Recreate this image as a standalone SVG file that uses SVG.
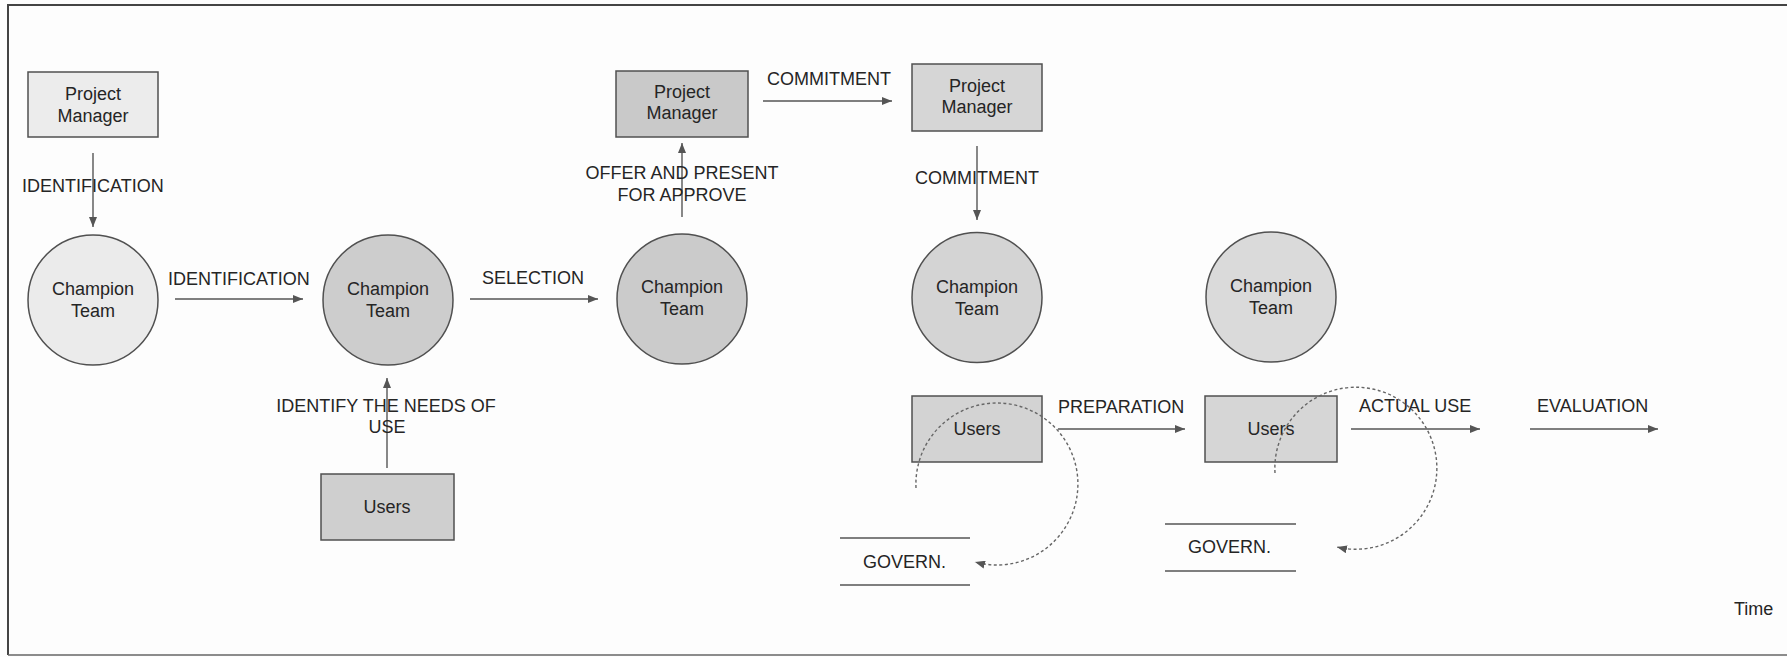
<svg xmlns="http://www.w3.org/2000/svg" width="1787" height="657" viewBox="0 0 1787 657">
  <style>
    text { font-family: "Liberation Sans", Arial, sans-serif; font-size: 18px; fill: #252525; }
    .mid { text-anchor: middle; }
    .shape { stroke: #505050; stroke-width: 1.5; }
    .flow { fill: none; stroke: #555; stroke-width: 1.4; marker-end: url(#arrow); }
    .loop { fill: none; stroke: #666; stroke-width: 1.4; stroke-dasharray: 3 2.5; marker-end: url(#arrow); }
    .store { stroke: #555; stroke-width: 1.4; }
  </style>
  <defs>
    <marker id="arrow" viewBox="0 0 10 8" refX="10" refY="4" markerWidth="10" markerHeight="8" markerUnits="userSpaceOnUse" orient="auto">
      <path d="M0,0 L10,4 L0,8 Z" fill="#555"/>
    </marker>
  </defs>

  <!-- page frame -->
  <rect x="0" y="0" width="1787" height="657" fill="#fdfdfd"/>
  <path d="M8,655 L8,5 L1787,5" fill="none" stroke="#444" stroke-width="2"/>
  <path d="M8,655 L1787,655" fill="none" stroke="#666" stroke-width="1.5"/>

  <!-- nodes -->
  <g id="pm1">
    <rect class="shape" x="28" y="72" width="130" height="65" fill="#ececec"/>
    <text class="mid" x="93" y="100">Project</text>
    <text class="mid" x="93" y="122">Manager</text>
  </g>
  <g id="team1">
    <circle class="shape" cx="93" cy="300" r="65" fill="#ebebeb"/>
    <text class="mid" x="93" y="295">Champion</text>
    <text class="mid" x="93" y="317">Team</text>
  </g>
  <g id="team2">
    <circle class="shape" cx="388" cy="300" r="65" fill="#cdcdcd"/>
    <text class="mid" x="388" y="295">Champion</text>
    <text class="mid" x="388" y="317">Team</text>
  </g>
  <g id="users1">
    <rect class="shape" x="321" y="474" width="133" height="66" fill="#cfcfcf"/>
    <text class="mid" x="387" y="513">Users</text>
  </g>
  <g id="team3">
    <circle class="shape" cx="682" cy="299" r="65" fill="#cbcbcb"/>
    <text class="mid" x="682" y="293">Champion</text>
    <text class="mid" x="682" y="315">Team</text>
  </g>
  <g id="pm2">
    <rect class="shape" x="616" y="71" width="132" height="66" fill="#c9c9c9"/>
    <text class="mid" x="682" y="98">Project</text>
    <text class="mid" x="682" y="119">Manager</text>
  </g>
  <g id="pm3">
    <rect class="shape" x="912" y="64" width="130" height="67" fill="#d6d6d6"/>
    <text class="mid" x="977" y="92">Project</text>
    <text class="mid" x="977" y="113">Manager</text>
  </g>
  <g id="team4">
    <circle class="shape" cx="977" cy="297.5" r="65" fill="#d4d4d4"/>
    <text class="mid" x="977" y="293">Champion</text>
    <text class="mid" x="977" y="315">Team</text>
  </g>
  <g id="team5">
    <circle class="shape" cx="1271" cy="297" r="65" fill="#dadada"/>
    <text class="mid" x="1271" y="292">Champion</text>
    <text class="mid" x="1271" y="314">Team</text>
  </g>
  <g id="users2">
    <rect class="shape" x="912" y="396" width="130" height="66" fill="#d3d3d3"/>
    <text class="mid" x="977" y="435">Users</text>
  </g>
  <g id="users3">
    <rect class="shape" x="1205" y="396" width="132" height="66" fill="#d6d6d6"/>
    <text class="mid" x="1271" y="435">Users</text>
  </g>
  <g id="govern1">
    <line class="store" x1="840" y1="538" x2="970" y2="538"/>
    <line class="store" x1="840" y1="585" x2="970" y2="585"/>
    <text x="863" y="568">GOVERN.</text>
  </g>
  <g id="govern2">
    <line class="store" x1="1165" y1="524" x2="1296" y2="524"/>
    <line class="store" x1="1165" y1="571" x2="1296" y2="571"/>
    <text x="1188" y="553">GOVERN.</text>
  </g>
  <g id="time-axis">
    <text x="1734" y="615">Time</text>
  </g>

  <!-- connectors and their labels -->
  <g id="connectors">
    <path class="flow" d="M93,153 L93,227"/>
    <text x="22" y="192">IDENTIFICATION</text>

    <path class="flow" d="M175,299 L303,299"/>
    <text x="168" y="285">IDENTIFICATION</text>

    <path class="flow" d="M470,299 L598,299"/>
    <text x="482" y="284">SELECTION</text>

    <path class="flow" d="M387,468 L387,378"/>
    <text class="mid" x="386" y="412">IDENTIFY THE NEEDS OF</text>
    <text class="mid" x="387" y="433">USE</text>

    <path class="flow" d="M682,217 L682,143"/>
    <text class="mid" x="682" y="179">OFFER AND PRESENT</text>
    <text class="mid" x="682" y="201">FOR APPROVE</text>

    <path class="flow" d="M763,101 L892,101"/>
    <text x="767" y="85">COMMITMENT</text>

    <path class="flow" d="M977,146 L977,220"/>
    <text x="915" y="184">COMMITMENT</text>

    <path class="flow" d="M1058,429 L1185,429"/>
    <text x="1058" y="413">PREPARATION</text>

    <path class="flow" d="M1351,429 L1480,429"/>
    <text x="1359" y="412">ACTUAL USE</text>

    <path class="flow" d="M1530,429 L1658,429"/>
    <text x="1537" y="412">EVALUATION</text>

    <!-- governance feedback loops -->
    <path class="loop" d="M916,488 A81,81 0 1 1 975,562"/>
    <path class="loop" d="M1275,473 A81,81 0 1 1 1337,547"/>
  </g>
</svg>
